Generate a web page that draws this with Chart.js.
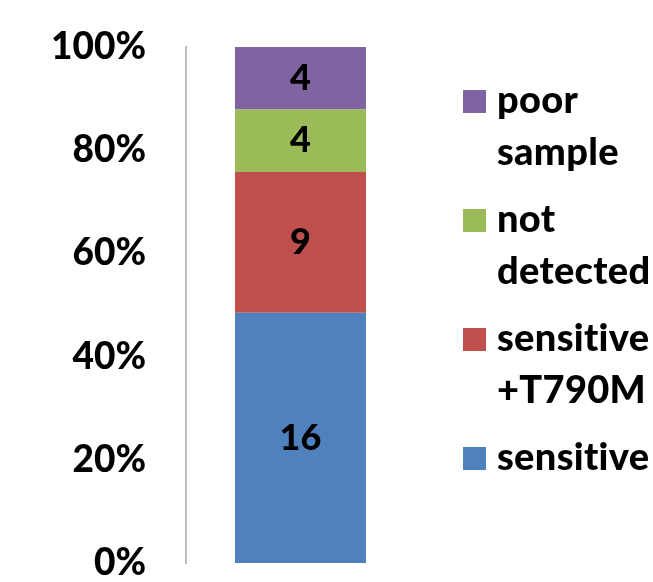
<!DOCTYPE html>
<html>
<head>
<meta charset="utf-8">
<script src="https://cdn.jsdelivr.net/npm/chart.js@4.4.1/dist/chart.umd.min.js"></script>
<style>
  html, body { margin: 0; padding: 0; background: #fff; }
  canvas { display: block; }
</style>
</head>
<body>
<canvas id="myChart" width="653" height="582"></canvas>
<script>
// Data (counts per group)
const categories = [''];
const seriesNames = ['sensitive', 'sensitive\n+T790M', 'not\ndetected', 'poor\nsample'];
const seriesCounts = [16, 9, 4, 4];
const seriesColors = ['#4F81BD', '#C0504D', '#9BBB59', '#8064A2'];
const tickValues = [0, 20, 40, 60, 80, 100];

const FONT = 'Lato, "Liberation Sans", sans-serif';
const total = seriesCounts.reduce((a, b) => a + b, 0);

// 100% stacked: each count as share of the total
const datasets = seriesNames.map((name, i) => ({
    label: name,
    data: [seriesCounts[i] / total * 100],
    count: seriesCounts[i],
    backgroundColor: seriesColors[i],
    borderWidth: 0,
    barPercentage: 0.572,
    categoryPercentage: 1
}));

// writes the count in the middle of each segment
const valueLabels = {
    id: 'valueLabels',
    afterDatasetsDraw(chart) {
        const ctx = chart.ctx;
        ctx.save();
        ctx.font = '900 36px ' + FONT;
        ctx.fillStyle = '#000';
        ctx.textAlign = 'center';
        ctx.textBaseline = 'middle';
        chart.data.datasets.forEach((ds, i) => {
            chart.getDatasetMeta(i).data.forEach(bar => {
                const mid = (bar.y + bar.base) / 2;
                ctx.fillText(String(ds.count), bar.x, mid);
            });
        });
        ctx.restore();
    }
};

// legend on the right, top entry = last series, two-line labels
const sideLegend = {
    id: 'sideLegend',
    afterDraw(chart) {
        const ctx = chart.ctx;
        const ds = chart.data.datasets;
        ctx.save();
        ctx.font = '900 38px ' + FONT;
        ctx.letterSpacing = '0.3px'; // keeps "ti" from joining
        ctx.textBaseline = 'middle';
        ctx.textAlign = 'left';
        let y = 101;
        for (let i = ds.length - 1; i >= 0; i--) {
            ctx.fillStyle = ds[i].backgroundColor;
            ctx.fillRect(463, y - 11, 23, 23);
            ctx.fillStyle = '#000';
            ds[i].label.split('\n').forEach((line, k) => {
                ctx.fillText(line, 497, y + k * 52);
            });
            y += 119;
        }
        ctx.restore();
    }
};

const config = {
    type: 'bar',
    data: { labels: categories, datasets: datasets },
    options: {
        responsive: false,
        animation: false,
        layout: { padding: { top: 47, bottom: 19, left: 11, right: 238 } },
        plugins: {
            legend: { display: false },
            tooltip: { enabled: false }
        },
        scales: {
            x: {
                stacked: true,
                display: false
            },
            y: {
                stacked: true,
                min: 0,
                max: 100,
                afterBuildTicks: axis => { axis.ticks = tickValues.map(v => ({ value: v })); },
                // tick padding also pads top/bottom; drop that so layout padding rules
                afterFit: axis => { axis.paddingTop = 0; axis.paddingBottom = 0; },
                grid: { display: false, drawTicks: false },
                border: { display: true, color: '#BDBDBD', width: 2 },
                ticks: {
                    padding: 40,
                    color: '#000',
                    font: { family: FONT, size: 37, weight: '900' },
                    callback: v => v + '%'
                }
            }
        }
    },
    plugins: [valueLabels, sideLegend]
};

const myChart = new Chart(document.getElementById('myChart'), config);
</script>
</body>
</html>
